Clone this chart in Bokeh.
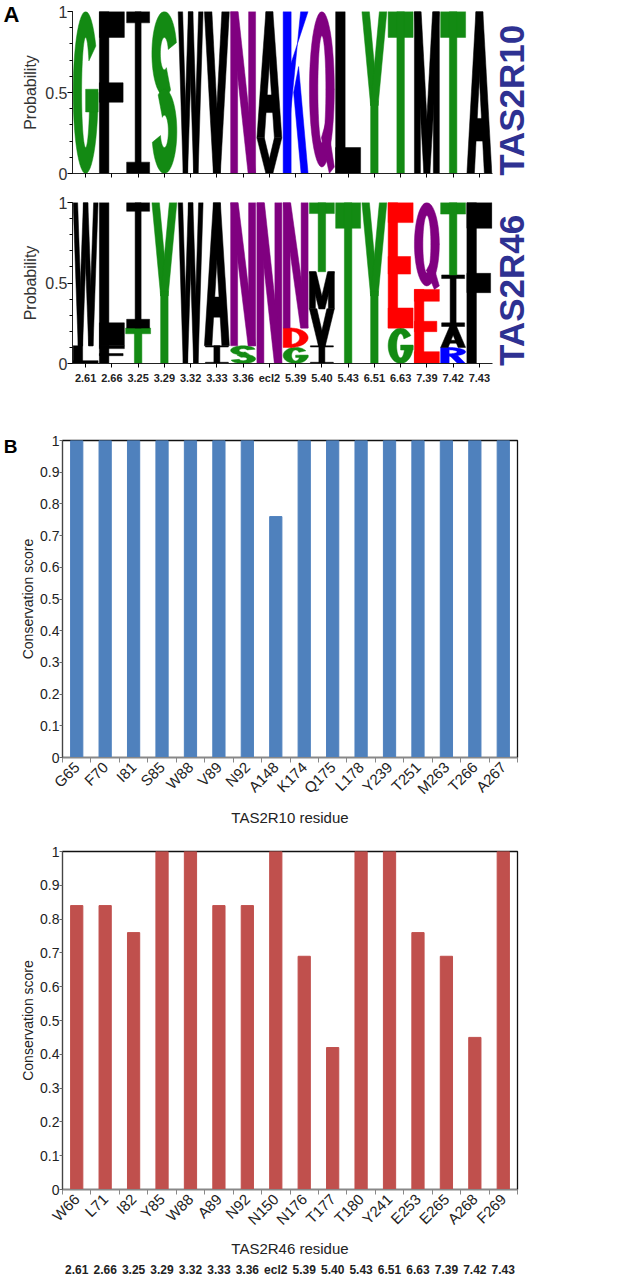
import numpy as np
from bokeh.plotting import figure
from bokeh.layouts import column
from bokeh.models import FixedTicker, LinearAxis, Range1d
from bokeh.embed import file_html
from bokeh.resources import INLINE

# ------------------------------------------------------------------ data
positions = ["2.61", "2.66", "3.25", "3.29", "3.32", "3.33", "3.36", "ecl2",
             "5.39", "5.40", "5.43", "6.51", "6.63", "7.39", "7.42", "7.43"]

tas2r10_residues = ["G65", "F70", "I81", "S85", "W88", "V89", "N92", "A148",
                    "K174", "Q175", "L178", "Y239", "T251", "M263", "T266", "A267"]
tas2r10_scores = [1, 1, 1, 1, 1, 1, 1, 0.76, 1, 1, 1, 1, 1, 1, 1, 1]

tas2r46_residues = ["W66", "L71", "I82", "Y85", "W88", "A89", "N92", "N150",
                    "N176", "T177", "T180", "Y241", "E253", "E265", "A268", "F269"]
tas2r46_scores = [0.84, 0.84, 0.76, 1, 1, 0.84, 0.84, 1,
                  0.69, 0.42, 1, 1, 0.76, 0.69, 0.45, 1]

# sequence logo stacks, listed bottom -> top
tas2r10_logo_letters = [["G"], ["F"], ["I"], ["S"], ["W"], ["V"], ["N"], ["V", "A"],
                        ["K"], ["Q"], ["L"], ["Y"], ["T"], ["M"], ["T"], ["A"]]
tas2r10_logo_probs = [[1], [1], [1], [1], [1], [1], [1], [0.22, 0.78],
                      [1], [1], [1], [1], [1], [1], [1], [1]]

tas2r46_logo_letters = [["L", "W"], ["F", "L"], ["T", "I"], ["Y"], ["W"], ["I", "A"],
                        ["S", "N"], ["N"], ["G", "D", "N"], ["I", "V", "M", "T"],
                        ["T"], ["Y"], ["G", "E"], ["E", "Q"], ["R", "A", "I", "T"], ["F"]]
tas2r46_logo_probs = [[0.11, 0.89], [0.11, 0.89], [0.22, 0.78], [1], [1], [0.11, 0.89],
                      [0.11, 0.89], [1], [0.10, 0.12, 0.78], [0.11, 0.23, 0.23, 0.43],
                      [1], [1], [0.22, 0.78], [0.46, 0.54], [0.10, 0.13, 0.32, 0.45], [1]]

# ------------------------------------------------------------------ style
FONT = "Liberation Sans"
GREEN, PURPLE, BLUE, RED, BLACK = "#138a13", "#800080", "#0000ff", "#ff0000", "#000000"
AA_COLOR = {"G": GREEN, "S": GREEN, "T": GREEN, "Y": GREEN, "C": GREEN,
            "N": PURPLE, "Q": PURPLE, "K": BLUE, "R": BLUE, "H": BLUE,
            "D": RED, "E": RED}
LABEL_BLUE = "#2e3192"

# ------------------------------------------------------------------ letter outlines (unit box)
H = 0.16


def rect(x0, y0, x1, y1):
    return [(x0, y0), (x1, y0), (x1, y1), (x0, y1)]


def arc(cx, cy, rx, ry, tx, ty, a0, a1, n=48):
    t = np.radians(np.linspace(a0, a1, n))
    outer = list(zip(cx + rx * np.cos(t), cy + ry * np.sin(t)))
    ti = t[::-1]
    inner = list(zip(cx + (rx - tx) * np.cos(ti), cy + (ry - ty) * np.sin(ti)))
    return outer + inner


GLYPHS = {
    "I": [rect(0.04, 0.93, 0.96, 1), rect(0.04, 0, 0.96, 0.07), rect(0.38, 0, 0.62, 1)],
    "T": [rect(0, 1 - H, 1, 1), rect(0.35, 0, 0.65, 1)],
    "L": [rect(0, 0, 0.38, 1), rect(0, 0, 1, H)],
    "F": [rect(0, 0, 0.38, 1), rect(0, 1 - H, 1, 1), rect(0, 0.44, 0.95, 0.56)],
    "E": [rect(0, 0, 0.38, 1), rect(0, 1 - H, 1, 1), rect(0, 0.43, 0.9, 0.57), rect(0, 0, 1, H)],
    "A": [[(0, 0), (0.3, 0), (0.64, 1), (0.36, 1)], [(0.7, 0), (1, 0), (0.64, 1), (0.36, 1)],
          rect(0.2, 0.2, 0.8, 0.34)],
    "V": [[(0, 1), (0.3, 1), (0.64, 0), (0.36, 0)], [(0.7, 1), (1, 1), (0.64, 0), (0.36, 0)]],
    "W": [[(0, 1), (0.18, 1), (0.38, 0), (0.2, 0)], [(0.41, 1), (0.59, 1), (0.38, 0), (0.2, 0)],
          [(0.41, 1), (0.59, 1), (0.8, 0), (0.62, 0)], [(0.82, 1), (1, 1), (0.8, 0), (0.62, 0)]],
    "M": [rect(0, 0, 0.24, 1), rect(0.76, 0, 1, 1),
          [(0, 1), (0.27, 1), (0.62, 0), (0.38, 0)], [(1, 1), (0.73, 1), (0.38, 0), (0.62, 0)]],
    "N": [rect(0, 0, 0.28, 1), rect(0.72, 0, 1, 1), [(0, 1), (0.3, 1), (1, 0), (0.7, 0)]],
    "K": [rect(0, 0, 0.32, 1), [(0.25, 0.3), (0.7, 1), (1, 1), (0.25, 0.65)],
          [(0.42, 0.5), (0.72, 0), (1, 0), (0.62, 0.66)]],
    "Y": [[(0, 1), (0.3, 1), (0.65, 0.42), (0.35, 0.42)], [(0.7, 1), (1, 1), (0.65, 0.42), (0.35, 0.42)],
          rect(0.35, 0, 0.65, 0.45)],
    "G": [arc(0.5, 0.5, 0.5, 0.5, 0.34, 0.16, 35, 360), rect(0.5, 0.38, 1, 0.52)],
    "Q": [arc(0.5, 0.52, 0.5, 0.48, 0.34, 0.15, 0, 360),
          [(0.48, 0.22), (0.7, 0.34), (1.0, 0.04), (0.8, 0.0)]],
    "S": [arc(0.5, 0.74, 0.5, 0.26, 0.34, 0.16, 15, 300),
          arc(0.5, 0.26, 0.5, 0.26, 0.34, 0.16, -165, 120)],
    "D": [rect(0, 0, 0.34, 1), arc(0.3, 0.5, 0.7, 0.5, 0.34, 0.16, -90, 90)],
    "R": [rect(0, 0, 0.34, 1), arc(0.3, 0.725, 0.7, 0.275, 0.34, 0.15, -90, 90),
          [(0.36, 0.5), (0.68, 0.5), (1, 0), (0.68, 0)]],
}


def logo_patches(letters, probs, box=0.95):
    xs, ys, cs = [], [], []
    for i, (stack, ps) in enumerate(zip(letters, probs)):
        xc = i + 1
        y0 = 0.0
        for aa, pr in zip(stack, ps):
            col = AA_COLOR.get(aa, BLACK)
            for poly in GLYPHS[aa]:
                pts = np.array(poly, dtype=float)
                xs.append(list(xc - box / 2 + box * pts[:, 0]))
                ys.append(list(y0 + pr * pts[:, 1]))
                cs.append(col)
            y0 += pr
    return xs, ys, cs


def label_axis(ticks, text, orientation, standoff, size, color):
    return LinearAxis(ticker=FixedTicker(ticks=[ticks]), major_label_overrides={ticks: text},
                      axis_label=None, axis_line_color=None,
                      major_tick_line_color=None, minor_tick_line_color=None,
                      major_tick_out=0, major_tick_in=0, minor_tick_out=0, minor_tick_in=0,
                      major_label_standoff=standoff, major_label_orientation=orientation,
                      major_label_text_font=FONT, major_label_text_font_style="bold",
                      major_label_text_font_size=size, major_label_text_color=color)


LOGO_L, LOGO_W, LOGO_R = 70, 422, 70
BAR_L, BAR_W, BAR_R = 62, 455, 40


def logo_fig(letters, probs, name, name_y, top, bottom, frame_h, labels):
    n = len(letters)
    p = figure(width=LOGO_L + LOGO_W + LOGO_R, height=top + frame_h + bottom,
               x_range=Range1d(0.5, n + 0.5), y_range=Range1d(0, 1),
               output_backend="svg", toolbar_location=None,
               min_border_left=LOGO_L, min_border_right=LOGO_R,
               min_border_top=top, min_border_bottom=bottom)
    p.title.visible = False
    xs, ys, cs = logo_patches(letters, probs)
    p.patches(xs, ys, fill_color=cs, line_color=cs, line_width=0.5)
    p.xgrid.visible = False
    p.ygrid.visible = False
    p.outline_line_color = None
    ya = p.yaxis[0]
    ya.ticker = FixedTicker(ticks=[0, 0.5, 1], minor_ticks=[k / 10 for k in range(11)])
    ya.major_label_overrides = {0: "0", 1: "1"}
    ya.axis_label = "Probability"
    ya.axis_label_text_font = FONT
    ya.axis_label_text_font_style = "normal"
    ya.axis_label_text_font_size = "16px"
    ya.axis_label_text_color = "#333333"
    ya.axis_label_standoff = 3
    ya.major_label_text_font = FONT
    ya.major_label_text_font_size = "16px"
    ya.major_label_text_color = "#333333"
    ya.major_label_standoff = 0
    ya.major_tick_out = 5
    ya.major_tick_in = 0
    ya.minor_tick_out = 3
    ya.minor_tick_in = 0
    ya.axis_line_color = "#222222"
    xa = p.xaxis[0]
    xa.ticker = FixedTicker(ticks=list(range(1, n + 1)))
    xa.major_tick_out = 4
    xa.major_tick_in = 0
    xa.axis_line_color = "#222222"
    if labels is None:
        xa.major_label_text_color = None
        xa.major_label_text_font_size = "1px"
        xa.major_label_standoff = 0
    else:
        xa.major_label_overrides = {k + 1: s for k, s in enumerate(labels)}
        xa.major_label_text_font = FONT
        xa.major_label_text_font_style = "bold"
        xa.major_label_text_font_size = "11px"
        xa.major_label_text_color = "#222222"
        xa.major_label_standoff = 4
    p.add_layout(label_axis(name_y, name, np.pi / 2, 19, "35px", LABEL_BLUE), "right")
    return p


def bar_fig(residues, scores, color, xlabel, top, bottom, frame_h, numbering=None):
    n = len(residues)
    x = list(range(1, n + 1))
    p = figure(width=BAR_L + BAR_W + BAR_R, height=top + frame_h + bottom,
               x_range=Range1d(0.5, n + 0.5), y_range=Range1d(0, 1),
               output_backend="svg", toolbar_location=None,
               min_border_left=BAR_L, min_border_right=BAR_R,
               min_border_top=top, min_border_bottom=bottom)
    p.title.visible = False
    p.vbar(x=x, top=scores, width=0.43, fill_color=color, line_color=color)
    p.xgrid.visible = False
    p.ygrid.visible = False
    p.outline_line_color = "#111111"
    p.outline_line_width = 1.3
    ya = p.yaxis[0]
    ya.ticker = FixedTicker(ticks=[k / 10 for k in range(11)])
    ya.major_label_overrides = {0: "0", 1: "1"}
    ya.axis_label = "Conservation score"
    ya.axis_label_text_font = FONT
    ya.axis_label_text_font_style = "normal"
    ya.axis_label_text_font_size = "14px"
    ya.axis_label_text_color = "#222222"
    ya.axis_label_standoff = 1
    ya.major_label_text_font = FONT
    ya.major_label_text_font_size = "14px"
    ya.major_label_text_color = "#222222"
    ya.major_label_standoff = 0
    ya.major_tick_out = 3
    ya.major_tick_in = 0
    ya.minor_tick_line_color = None
    ya.minor_tick_out = 0
    ya.minor_tick_in = 0
    ya.axis_line_color = "#444444"
    ya.major_tick_line_color = "#666666"
    xa = p.xaxis[0]
    xa.ticker = FixedTicker(ticks=x, minor_ticks=[k + 0.5 for k in range(n + 1)])
    xa.major_label_overrides = {k: r for k, r in zip(x, residues)}
    xa.major_label_orientation = np.pi / 4
    xa.major_label_text_font = FONT
    xa.major_label_text_font_size = "15px"
    xa.major_label_text_color = "#222222"
    xa.major_label_standoff = 2
    xa.major_tick_out = 0
    xa.major_tick_in = 0
    xa.minor_tick_out = 5
    xa.minor_tick_in = 0
    xa.minor_tick_line_color = "#888888"
    xa.axis_line_color = "#888888"
    xa.axis_label = xlabel
    xa.axis_label_text_font = FONT
    xa.axis_label_text_font_style = "normal"
    xa.axis_label_text_font_size = "15px"
    xa.axis_label_text_color = "#222222"
    xa.axis_label_standoff = 3
    if numbering is not None:
        ax2 = LinearAxis(ticker=FixedTicker(ticks=x),
                         major_label_overrides={k: s for k, s in zip(x, numbering)},
                         axis_label=None, axis_line_color=None,
                         major_tick_line_color=None, minor_tick_line_color=None,
                         major_tick_out=0, major_tick_in=0, minor_tick_out=0, minor_tick_in=0,
                         major_label_text_font=FONT, major_label_text_font_style="bold",
                         major_label_text_font_size="12px",
                         major_label_text_color="#222222", major_label_standoff=3)
        p.add_layout(ax2, "below")
    return p


p1 = logo_fig(tas2r10_logo_letters, tas2r10_logo_probs, "TAS2R10", 0.285, 11, 20, 162, None)
p1.add_layout(label_axis(0.98, "A", "horizontal", 0, "22px", "#000000"), "left")
p2 = logo_fig(tas2r46_logo_letters, tas2r46_logo_probs, "TAS2R46", 0.25, 9, 25, 161, positions)

p3 = bar_fig(tas2r10_residues, tas2r10_scores, "#4f81bd", "TAS2R10 residue", 52, 70, 319)
p3.add_layout(label_axis(0.98, "B", "horizontal", 0, "19px", "#000000"), "left")
p4 = bar_fig(tas2r46_residues, tas2r46_scores, "#c0504d", "TAS2R46 residue", 22, 91, 338,
             numbering=positions)

# two separate roots so that the logo frames and bar frames are laid out independently
logos = column(p1, p2, spacing=0)
bars = column(p3, p4, spacing=0)
open("out.html", "w").write(file_html([logos, bars], INLINE))
